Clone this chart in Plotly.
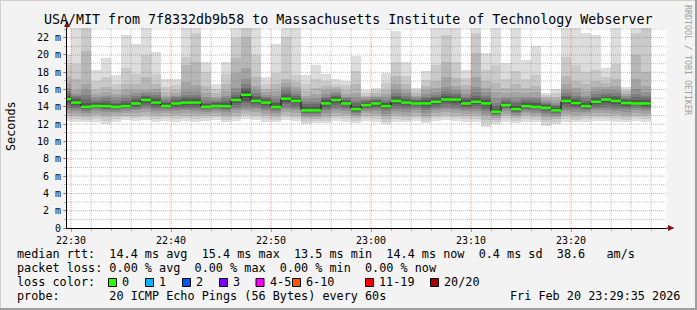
import plotly.graph_objects as go
from datetime import datetime, timedelta

# ---------------- data ----------------
TITLE = "USA/MIT from 7f8332db9b58 to Massachusetts Institute of Technology Webserver"
AXIS_START = datetime(2026, 2, 20, 22, 29, 36)
AXIS_END = datetime(2026, 2, 20, 23, 29, 36)
FIRST_BAR = datetime(2026, 2, 20, 22, 29, 0)
STEP_SECONDS = 60
Y_MAX = 23.12  # ms

median_rtt = [14.9, 14.5, 14.0, 14.1, 14.1, 14.0, 14.1, 14.4, 14.8, 14.5,
              14.1, 14.4, 14.5, 14.5, 14.0, 14.1, 14.1, 14.8, 15.4, 14.7,
              14.5, 14.0, 14.95, 14.7, 13.6, 13.6, 14.4, 14.8, 14.4, 13.75,
              14.2, 14.4, 14.1, 14.7, 14.5, 14.4, 14.4, 14.6, 14.85, 14.85,
              14.4, 14.6, 14.4, 13.45, 14.2, 13.75, 14.1, 14.0, 13.9, 13.6,
              14.7, 14.45, 14.1, 14.6, 14.85, 14.7, 14.45, 14.4, 14.4]

# 20 sorted ping round-trip times (ms) per minute
pings = [
    [12.4, 12.7, 13.0, 13.3, 13.6, 13.9, 14.2, 14.5, 14.7, 14.85, 14.95, 15.1, 15.3, 15.5, 15.8, 16.2, 16.8, 17.6, 18.8, 20.0],
    [12.3, 12.6, 12.9, 13.2, 13.5, 13.8, 14.0, 14.2, 14.35, 14.45, 14.55, 14.7, 14.9, 15.1, 15.3, 15.5, 16.0, 17.2, 19.0, 24.0],
    [12.2, 12.5, 12.8, 13.1, 13.3, 13.5, 13.7, 13.8, 13.9, 13.95, 14.05, 14.2, 14.5, 14.9, 15.4, 16.0, 16.7, 20.5, 23.5, 24.0],
    [12.3, 12.6, 12.9, 13.2, 13.5, 13.7, 13.85, 13.95, 14.05, 14.08, 14.15, 14.25, 14.4, 14.6, 14.8, 15.1, 15.5, 16.0, 17.0, 18.3],
    [12.0, 12.4, 12.8, 13.1, 13.4, 13.6, 13.8, 13.95, 14.05, 14.08, 14.15, 14.3, 14.5, 14.7, 15.0, 15.3, 15.7, 16.3, 17.5, 19.6],
    [12.3, 12.6, 12.9, 13.2, 13.4, 13.6, 13.75, 13.85, 13.95, 13.98, 14.05, 14.15, 14.3, 14.5, 14.8, 15.1, 15.5, 15.9, 16.6, 17.7],
    [12.5, 12.8, 13.0, 13.3, 13.5, 13.7, 13.85, 13.95, 14.05, 14.08, 14.15, 14.3, 14.5, 14.7, 15.0, 15.4, 15.9, 16.7, 18.5, 22.3],
    [12.4, 12.7, 13.0, 13.3, 13.6, 13.8, 14.0, 14.15, 14.3, 14.38, 14.45, 14.6, 14.8, 15.0, 15.3, 15.6, 16.0, 16.6, 17.8, 21.3],
    [12.5, 12.8, 13.1, 13.4, 13.7, 14.0, 14.2, 14.45, 14.65, 14.75, 14.85, 14.95, 15.1, 15.3, 15.5, 15.7, 15.9, 17.5, 20.0, 24.0],
    [12.3, 12.6, 12.9, 13.2, 13.5, 13.8, 14.0, 14.2, 14.35, 14.45, 14.55, 14.7, 14.9, 15.1, 15.4, 15.7, 16.1, 16.7, 17.8, 20.4],
    [12.4, 12.7, 13.0, 13.3, 13.5, 13.7, 13.85, 13.95, 14.05, 14.08, 14.15, 14.25, 14.4, 14.6, 14.8, 15.0, 15.3, 15.7, 16.3, 17.2],
    [12.3, 12.6, 12.9, 13.2, 13.5, 13.8, 14.0, 14.15, 14.3, 14.38, 14.45, 14.55, 14.7, 14.9, 15.1, 15.3, 15.6, 16.0, 16.5, 17.2],
    [12.4, 12.7, 13.0, 13.3, 13.6, 13.8, 14.0, 14.2, 14.35, 14.45, 14.55, 14.7, 14.9, 15.1, 15.4, 15.8, 16.9, 18.8, 19.8, 24.0],
    [12.3, 12.6, 12.9, 13.2, 13.5, 13.8, 14.0, 14.2, 14.35, 14.45, 14.55, 14.7, 14.9, 15.1, 15.4, 15.8, 16.5, 19.2, 22.5, 24.0],
    [12.4, 12.7, 13.0, 13.2, 13.4, 13.6, 13.75, 13.85, 13.95, 13.98, 14.05, 14.15, 14.3, 14.5, 14.8, 15.1, 15.6, 16.4, 18.0, 19.2],
    [12.5, 12.8, 13.0, 13.3, 13.5, 13.7, 13.85, 13.95, 14.05, 14.08, 14.15, 14.25, 14.4, 14.55, 14.7, 14.9, 15.2, 15.6, 16.1, 16.6],
    [12.2, 12.5, 12.8, 13.1, 13.4, 13.6, 13.8, 13.95, 14.05, 14.08, 14.15, 14.3, 14.5, 14.7, 15.0, 15.3, 15.8, 16.6, 17.8, 19.2],
    [12.4, 12.7, 13.0, 13.3, 13.6, 13.9, 14.2, 14.45, 14.65, 14.75, 14.85, 15.0, 15.2, 15.4, 15.7, 16.2, 17.9, 19.6, 22.0, 24.0],
    [12.6, 12.9, 13.2, 13.5, 13.8, 14.1, 14.4, 14.7, 15.0, 15.3, 15.5, 15.7, 15.9, 16.2, 16.6, 17.2, 18.5, 22.1, 23.8, 24.0],
    [12.5, 12.8, 13.1, 13.4, 13.7, 14.0, 14.2, 14.4, 14.55, 14.65, 14.75, 14.9, 15.1, 15.3, 15.6, 15.9, 16.4, 17.4, 20.0, 24.0],
    [12.3, 12.6, 12.9, 13.2, 13.5, 13.8, 14.0, 14.2, 14.35, 14.45, 14.55, 14.7, 14.85, 15.0, 15.2, 15.4, 15.7, 16.1, 16.7, 17.5],
    [12.2, 12.5, 12.8, 13.1, 13.3, 13.5, 13.7, 13.85, 13.95, 13.98, 14.05, 14.2, 14.4, 14.6, 14.9, 15.3, 15.8, 16.7, 17.9, 21.3],
    [12.5, 12.8, 13.1, 13.4, 13.7, 14.0, 14.3, 14.55, 14.75, 14.9, 15.0, 15.15, 15.35, 15.6, 15.9, 16.3, 16.8, 17.2, 22.1, 24.0],
    [12.4, 12.7, 13.0, 13.3, 13.6, 13.9, 14.15, 14.4, 14.55, 14.65, 14.75, 14.9, 15.05, 15.25, 15.5, 15.8, 16.3, 16.9, 17.7, 24.0],
    [12.0, 12.3, 12.6, 12.8, 13.0, 13.15, 13.3, 13.4, 13.5, 13.55, 13.65, 13.8, 14.0, 14.3, 14.6, 14.9, 15.3, 15.8, 16.6, 17.7],
    [12.1, 12.4, 12.6, 12.8, 13.0, 13.15, 13.3, 13.4, 13.5, 13.55, 13.65, 13.8, 14.0, 14.3, 14.6, 15.0, 15.5, 16.2, 17.2, 18.85],
    [12.1, 12.4, 12.7, 13.0, 13.3, 13.6, 13.9, 14.1, 14.25, 14.35, 14.45, 14.6, 14.8, 15.0, 15.2, 15.5, 15.9, 16.4, 17.0, 17.8],
    [12.4, 12.7, 13.0, 13.3, 13.6, 13.9, 14.2, 14.45, 14.65, 14.75, 14.85, 15.0, 15.15, 15.3, 15.5, 15.7, 16.0, 16.3, 16.7, 17.2],
    [12.3, 12.6, 12.9, 13.2, 13.5, 13.8, 14.0, 14.2, 14.3, 14.35, 14.45, 14.55, 14.7, 14.85, 15.0, 15.2, 15.5, 15.9, 16.5, 17.0],
    [12.1, 12.4, 12.7, 12.9, 13.1, 13.3, 13.45, 13.55, 13.65, 13.7, 13.8, 13.95, 14.15, 14.4, 14.7, 15.1, 15.6, 16.6, 18.1, 19.9],
    [12.4, 12.7, 13.0, 13.3, 13.5, 13.7, 13.9, 14.0, 14.1, 14.15, 14.25, 14.35, 14.5, 14.65, 14.8, 14.95, 15.1, 15.3, 15.6, 15.9],
    [12.3, 12.6, 12.9, 13.2, 13.5, 13.8, 14.0, 14.15, 14.3, 14.35, 14.45, 14.55, 14.65, 14.8, 14.95, 15.1, 15.3, 15.6, 15.9, 16.2],
    [12.0, 12.3, 12.6, 12.9, 13.2, 13.5, 13.7, 13.85, 14.0, 14.05, 14.15, 14.3, 14.45, 14.6, 14.8, 15.1, 15.5, 16.0, 16.8, 17.9],
    [12.3, 12.6, 12.9, 13.2, 13.5, 13.8, 14.1, 14.35, 14.55, 14.65, 14.75, 14.9, 15.1, 15.3, 15.6, 16.0, 16.6, 17.6, 19.2, 22.8],
    [12.2, 12.5, 12.8, 13.1, 13.4, 13.7, 14.0, 14.2, 14.35, 14.45, 14.55, 14.7, 14.85, 15.05, 15.3, 15.6, 16.0, 16.6, 17.6, 19.2],
    [12.4, 12.7, 13.0, 13.3, 13.6, 13.85, 14.05, 14.2, 14.3, 14.35, 14.45, 14.55, 14.65, 14.8, 14.95, 15.1, 15.3, 15.6, 15.9, 16.2],
    [12.1, 12.4, 12.7, 13.0, 13.3, 13.6, 13.9, 14.1, 14.25, 14.35, 14.45, 14.6, 14.8, 15.0, 15.2, 15.5, 15.9, 16.4, 17.1, 18.1],
    [12.4, 12.7, 13.0, 13.3, 13.6, 13.9, 14.15, 14.35, 14.5, 14.55, 14.65, 14.8, 15.0, 15.2, 15.4, 15.7, 16.2, 17.0, 18.8, 24.0],
    [12.5, 12.8, 13.1, 13.4, 13.7, 14.0, 14.3, 14.55, 14.7, 14.8, 14.9, 15.05, 15.25, 15.5, 15.8, 16.3, 17.4, 19.2, 22.3, 24.0],
    [12.4, 12.7, 13.0, 13.3, 13.6, 13.9, 14.2, 14.5, 14.7, 14.8, 14.9, 15.05, 15.2, 15.4, 15.6, 15.9, 16.4, 17.3, 19.2, 24.0],
    [12.3, 12.6, 12.9, 13.2, 13.5, 13.8, 14.0, 14.15, 14.3, 14.35, 14.45, 14.6, 14.8, 15.0, 15.2, 15.5, 15.9, 16.5, 17.3, 18.3],
    [12.3, 12.6, 12.9, 13.2, 13.5, 13.8, 14.1, 14.3, 14.5, 14.55, 14.65, 14.8, 15.0, 15.3, 15.7, 16.3, 17.5, 20.2, 22.5, 24.0],
    [11.7, 12.1, 12.5, 12.9, 13.2, 13.5, 13.8, 14.05, 14.25, 14.35, 14.45, 14.6, 14.8, 15.0, 15.3, 15.7, 16.2, 17.0, 18.3, 20.2],
    [12.0, 12.3, 12.5, 12.7, 12.9, 13.05, 13.2, 13.3, 13.4, 13.43, 13.5, 13.6, 13.8, 14.1, 14.5, 15.0, 15.7, 16.8, 18.8, 24.0],
    [12.3, 12.6, 12.9, 13.2, 13.5, 13.7, 13.9, 14.05, 14.15, 14.18, 14.25, 14.35, 14.5, 14.7, 14.9, 15.2, 15.6, 16.2, 17.2, 19.1],
    [12.1, 12.4, 12.7, 12.9, 13.1, 13.3, 13.45, 13.55, 13.65, 13.7, 13.8, 13.95, 14.15, 14.4, 14.7, 15.1, 15.7, 16.6, 18.2, 24.0],
    [12.3, 12.6, 12.9, 13.2, 13.4, 13.6, 13.8, 13.95, 14.05, 14.08, 14.15, 14.3, 14.45, 14.65, 14.9, 15.2, 15.6, 16.2, 17.2, 19.4],
    [12.2, 12.5, 12.8, 13.1, 13.3, 13.5, 13.7, 13.85, 13.95, 13.98, 14.05, 14.2, 14.4, 14.6, 14.9, 15.2, 15.7, 16.4, 17.7, 21.0],
    [11.8, 12.2, 12.5, 12.8, 13.1, 13.3, 13.5, 13.7, 13.8, 13.85, 13.95, 14.05, 14.2, 14.35, 14.5, 14.7, 14.9, 15.1, 15.35, 15.6],
    [12.0, 12.3, 12.6, 12.8, 13.0, 13.15, 13.3, 13.4, 13.5, 13.55, 13.65, 13.75, 13.9, 14.05, 14.25, 14.5, 14.8, 15.2, 15.6, 16.1],
    [12.3, 12.6, 12.9, 13.2, 13.5, 13.8, 14.1, 14.35, 14.55, 14.65, 14.75, 14.9, 15.1, 15.3, 15.6, 16.0, 16.6, 17.6, 19.8, 24.0],
    [12.2, 12.5, 12.8, 13.1, 13.4, 13.7, 13.95, 14.15, 14.3, 14.4, 14.5, 14.65, 14.85, 15.05, 15.3, 15.7, 16.2, 17.0, 18.8, 24.0],
    [12.3, 12.6, 12.9, 13.2, 13.4, 13.6, 13.8, 13.95, 14.05, 14.08, 14.15, 14.3, 14.5, 14.7, 15.0, 15.3, 15.8, 16.6, 18.0, 22.5],
    [12.4, 12.7, 13.0, 13.3, 13.6, 13.9, 14.15, 14.35, 14.5, 14.55, 14.65, 14.8, 15.0, 15.2, 15.5, 15.8, 16.3, 17.0, 18.3, 22.3],
    [12.4, 12.7, 13.0, 13.3, 13.6, 13.9, 14.2, 14.5, 14.7, 14.8, 14.9, 15.05, 15.2, 15.4, 15.6, 15.9, 16.3, 16.8, 17.5, 18.5],
    [12.3, 12.6, 12.9, 13.2, 13.5, 13.8, 14.1, 14.35, 14.55, 14.65, 14.75, 14.9, 15.1, 15.3, 15.6, 15.9, 16.4, 17.2, 19.0, 24.0],
    [12.2, 12.5, 12.8, 13.1, 13.4, 13.7, 13.95, 14.15, 14.3, 14.4, 14.5, 14.6, 14.75, 14.9, 15.05, 15.25, 15.5, 15.8, 16.0, 16.3],
    [12.4, 12.7, 13.0, 13.3, 13.6, 13.85, 14.05, 14.2, 14.3, 14.35, 14.45, 14.6, 14.8, 15.1, 15.5, 16.1, 17.2, 20.0, 22.5, 24.0],
    [12.3, 12.6, 12.9, 13.2, 13.5, 13.8, 14.0, 14.15, 14.3, 14.35, 14.45, 14.6, 14.8, 15.0, 15.3, 15.7, 16.4, 18.0, 23.5, 24.0],
]

smoke_colors = ["#dddddd", "#cacaca", "#b7b7b7", "#a4a4a4", "#919191",
                "#7e7e7e", "#6b6b6b", "#585858", "#454545", "#323232"]

y_tick_values = [0, 2, 4, 6, 8, 10, 12, 14, 16, 18, 20, 22]
y_tick_labels = ["0", "2 m", "4 m", "6 m", "8 m", "10 m", "12 m", "14 m",
                 "16 m", "18 m", "20 m", "22 m"]

loss_labels = ["0", "1", "2", "3", "4-5", "6-10", "11-19", "20/20"]
loss_colors = ["#26ff00", "#00b8ff", "#0059ff", "#7e00ff", "#ff00ff",
               "#ff5500", "#ff0000", "#a10000"]

stats_line = "median rtt:  14.4 ms avg  15.4 ms max  13.5 ms min  14.4 ms now  0.4 ms sd  38.6   am/s"
loss_line = "packet loss: 0.00 % avg  0.00 % max  0.00 % min  0.00 % now"
loss_title = "loss color:"
probe_line = "probe:       20 ICMP Echo Pings (56 Bytes) every 60s"
timestamp = "Fri Feb 20 23:29:35 2026"
y_title = "Seconds"
credit = "RRDTOOL / TOBI OETIKER"

# ---------------- layout geometry ----------------
W, H = 697, 310
L, R, T, B = 67, 30, 28, 82
PW, PH = W - L - R, H - T - B
MONO = "DejaVu Sans Mono"


def px(xp):
    return (xp - L) / PW


def py(yp):
    return (T + PH - yp) / PH


def nb(s):
    return s.replace(" ", "\u00a0")


step = timedelta(seconds=STEP_SECONDS)
n = len(median_rtt)
lefts = [FIRST_BAR + step * k for k in range(n)]
centers = [t + step / 2 for t in lefts]

fig = go.Figure()

# smoke
for i, col in enumerate(smoke_colors):
    base = [row[i] for row in pings]
    height = [row[19 - i] - row[i] for row in pings]
    fig.add_trace(go.Bar(x=centers, y=height, base=base, width=STEP_SECONDS * 1000,
                         marker=dict(color=col, line=dict(width=0)),
                         hoverinfo="skip", showlegend=False))

# grid (drawn above the smoke like rrdtool)
minor_x, minor_y, major_x, major_y = [], [], [], []
for v in range(1, int(Y_MAX) + 1):
    tx, ty = (major_x, major_y) if v % 2 == 0 else (minor_x, minor_y)
    tx += [AXIS_START, AXIS_END, None]
    ty += [v, v, None]
t = datetime(2026, 2, 20, 22, 30, 0)
while t < AXIS_END:
    tx, ty = (major_x, major_y) if t.minute % 10 == 0 else (minor_x, minor_y)
    tx += [t, t, None]
    ty += [0, Y_MAX, None]
    t += timedelta(minutes=2)
fig.add_trace(go.Scatter(x=minor_x, y=minor_y, mode="lines",
                         line=dict(color="rgba(120,120,120,0.45)", width=1, dash="1px,1px"),
                         hoverinfo="skip", showlegend=False))
fig.add_trace(go.Scatter(x=major_x, y=major_y, mode="lines",
                         line=dict(color="rgba(255,0,0,0.38)", width=1, dash="1px,1px"),
                         hoverinfo="skip", showlegend=False))

# median: dark step connector + green segments
fig.add_trace(go.Scatter(x=lefts + [lefts[-1] + step], y=median_rtt + [median_rtt[-1]],
                         mode="lines", line=dict(color="#101010", width=1, shape="hv"),
                         hoverinfo="skip", showlegend=False))
gx, gy = [], []
for t0, m in zip(lefts, median_rtt):
    gx += [t0, t0 + step, None]
    gy += [m, m, None]
fig.add_trace(go.Scatter(x=gx, y=gy, mode="lines",
                         line=dict(color=loss_colors[0], width=2.6),
                         hoverinfo="skip", showlegend=False))

shapes = []
# axis extensions and arrows
shapes.append(dict(type="line", xref="paper", yref="paper", x0=px(667), x1=px(670),
                   y0=0, y1=0, line=dict(color="black", width=1)))
shapes.append(dict(type="path", xref="paper", yref="paper",
                   path=f"M {px(668)} {py(225)} L {px(674.5)} {py(228)} L {px(668)} {py(231)} Z",
                   fillcolor="#8b1010", line=dict(width=0)))
shapes.append(dict(type="line", xref="paper", yref="paper", x0=0, x1=0,
                   y0=1, y1=py(25), line=dict(color="black", width=1)))
shapes.append(dict(type="path", xref="paper", yref="paper",
                   path=f"M {px(64)} {py(27)} L {px(67)} {py(20.5)} L {px(70)} {py(27)} Z",
                   fillcolor="#8b1010", line=dict(width=0)))
# image frame
shapes.append(dict(type="line", xref="paper", yref="paper", x0=px(0), x1=px(W),
                   y0=py(0.5), y1=py(0.5), line=dict(color="#cfcfcf", width=1)))
shapes.append(dict(type="line", xref="paper", yref="paper", x0=px(0.5), x1=px(0.5),
                   y0=py(0), y1=py(H), line=dict(color="#cfcfcf", width=1)))
shapes.append(dict(type="line", xref="paper", yref="paper", x0=px(0), x1=px(W),
                   y0=py(H - 1), y1=py(H - 1), line=dict(color="#9e9e9e", width=2)))
shapes.append(dict(type="line", xref="paper", yref="paper", x0=px(W - 1), x1=px(W - 1),
                   y0=py(0), y1=py(H), line=dict(color="#9e9e9e", width=2)))

annotations = []


def text(x, y, s, size=11.8, anchor="left", color="black", angle=0):
    annotations.append(dict(x=px(x), y=py(y), xref="paper", yref="paper", text=nb(s),
                            showarrow=False, xanchor=anchor, yanchor="middle",
                            textangle=angle, borderpad=0,
                            font=dict(family=MONO, size=size, color=color)))


text(348, 19, TITLE, size=13.3, anchor="center")
text(11, 126, y_title, size=11.8, anchor="center", angle=-90)
text(688, 60, credit, size=8.3, anchor="center", color="#a0a0a0", angle=90)
text(15.5, 254, stats_line)
text(15.5, 268, loss_line)
text(15.5, 282, loss_title)
text(15.5, 296, probe_line)
text(681, 296, timestamp, anchor="right")

box_left = [108.5, 145.5, 182.5, 219.5, 256, 292.5, 365.5, 430.5]
for bl, lab, col in zip(box_left, loss_labels, loss_colors):
    shapes.append(dict(type="rect", xref="paper", yref="paper",
                       x0=px(bl), x1=px(bl + 8), y0=py(286.5), y1=py(278.5),
                       fillcolor=col, line=dict(color="black", width=1)))
    text(bl + 12.8, 282, lab)

fig.update_layout(
    width=W, height=H, autosize=False,
    margin=dict(l=L, r=R, t=T, b=B, pad=0),
    paper_bgcolor="#f3f3f3", plot_bgcolor="white",
    barmode="overlay", bargap=0,
    showlegend=False,
    shapes=shapes, annotations=annotations,
    xaxis=dict(type="date", range=[AXIS_START, AXIS_END], showgrid=False, zeroline=False,
               showline=True, linecolor="black", linewidth=1,
               tick0="2026-02-20 22:30:00", dtick=600000, tickformat="%H:%M",
               ticks="outside", ticklen=3, tickcolor="rgba(255,0,0,0.5)", tickwidth=1,
               minor=dict(dtick=120000, ticks="outside", ticklen=2,
                          tickcolor="rgba(120,120,120,0.5)", showgrid=False),
               tickfont=dict(family=MONO, size=10, color="black"),
               ticklabelstandoff=0,
               fixedrange=True),
    yaxis=dict(range=[0, Y_MAX], showgrid=False, zeroline=False,
               showline=True, linecolor="black", linewidth=1,
               tickvals=y_tick_values, ticktext=y_tick_labels,
               ticks="outside", ticklen=3, tickcolor="rgba(255,0,0,0.5)", tickwidth=1,
               minor=dict(dtick=1, ticks="outside", ticklen=2,
                          tickcolor="rgba(120,120,120,0.5)", showgrid=False),
               tickfont=dict(family=MONO, size=10, color="black"),
               fixedrange=True),
)

fig.write_html("out.html", config={"displayModeBar": False})
